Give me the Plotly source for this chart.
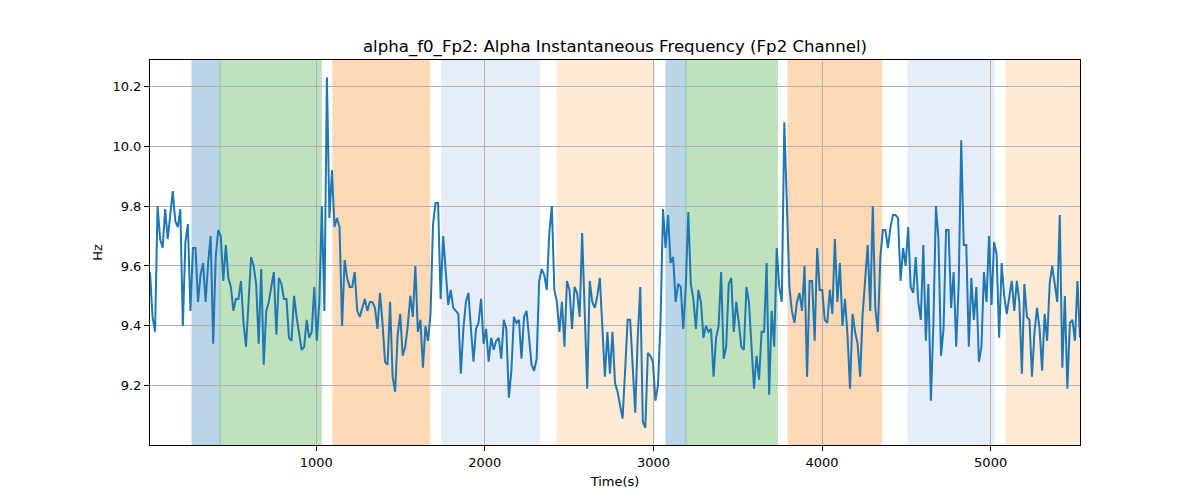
import numpy as np
import plotly.graph_objects as go

# Alpha instantaneous frequency (Hz), sampled on a regular time grid
freq_hz = [
    9.58, 9.43, 9.38, 9.80, 9.69, 9.66, 9.79, 9.69, 9.77, 9.85, 9.75, 9.73, 9.79, 9.40, 9.68, 9.74,
    9.45, 9.66, 9.66, 9.48, 9.57, 9.61, 9.48, 9.61, 9.70, 9.34, 9.63, 9.72, 9.70, 9.55, 9.67, 9.56,
    9.53, 9.45, 9.49, 9.49, 9.55, 9.41, 9.33, 9.48, 9.63, 9.60,
    9.54, 9.34, 9.59, 9.27, 9.45, 9.48, 9.53, 9.58, 9.37, 9.56, 9.54, 9.49, 9.49, 9.36, 9.35, 9.50,
    9.43, 9.38, 9.32, 9.33, 9.42, 9.36, 9.38, 9.53, 9.35, 9.48, 9.80, 9.45, 10.23, 9.76, 9.92, 9.73,
    9.76, 9.73, 9.40, 9.62, 9.56, 9.53, 9.53, 9.58, 9.45,
    9.43, 9.46, 9.49, 9.45, 9.48, 9.48, 9.46, 9.39, 9.51, 9.41, 9.28, 9.27, 9.48, 9.23, 9.18, 9.37,
    9.44, 9.30, 9.33, 9.40, 9.50, 9.43, 9.60, 9.38, 9.42, 9.26, 9.40, 9.35, 9.44, 9.74, 9.81, 9.81,
    9.49, 9.70, 9.57, 9.47, 9.52, 9.46, 9.45, 9.44, 9.24,
    9.39, 9.48, 9.51, 9.39, 9.28, 9.39, 9.41, 9.49, 9.34, 9.39, 9.28, 9.36, 9.32, 9.35, 9.36, 9.29,
    9.42, 9.39, 9.16, 9.25, 9.43, 9.41, 9.42, 9.29, 9.43, 9.45, 9.36, 9.27, 9.25, 9.29, 9.55, 9.59,
    9.57, 9.52, 9.71, 9.80, 9.52, 9.48, 9.38, 9.48, 9.33,
    9.55, 9.52, 9.39, 9.53, 9.51, 9.43, 9.71, 9.45, 9.19, 9.55, 9.48, 9.46, 9.50, 9.56, 9.38, 9.23,
    9.38, 9.24, 9.38, 9.21, 9.18, 9.14, 9.09, 9.25, 9.42, 9.42, 9.26, 9.11, 9.36, 9.53, 9.08, 9.06,
    9.31, 9.30, 9.28, 9.15, 9.20, 9.41, 9.79, 9.66, 9.77,
    9.61, 9.63, 9.48, 9.54, 9.53, 9.39, 9.53, 9.78, 9.54, 9.49, 9.39, 9.52, 9.48, 9.36, 9.40, 9.38,
    9.39, 9.23, 9.36, 9.40, 9.58, 9.29, 9.33, 9.54, 9.56, 9.38, 9.48, 9.41, 9.33, 9.32, 9.53, 9.48,
    9.33, 9.19, 9.30, 9.22, 9.38, 9.38, 9.61, 9.17, 9.45, 9.33,
    9.66, 9.53, 9.48, 10.08, 9.81, 9.53, 9.45, 9.41, 9.48, 9.51, 9.45, 9.60, 9.23, 9.55, 9.55, 9.35,
    9.66, 9.52, 9.52, 9.42, 9.41, 9.52, 9.44, 9.69, 9.48, 9.61, 9.40, 9.49, 9.37, 9.19, 9.44, 9.38,
    9.34, 9.23, 9.44, 9.57, 9.67, 9.45, 9.80, 9.46, 9.38,
    9.63, 9.72, 9.72, 9.66, 9.73, 9.77, 9.77, 9.76, 9.55, 9.66, 9.60, 9.73, 9.53, 9.51, 9.63, 9.48,
    9.42, 9.67, 9.35, 9.54, 9.15, 9.41, 9.80, 9.69, 9.30, 9.39, 9.72, 9.72, 9.46, 9.58, 9.33, 9.54,
    10.02, 9.67, 9.67, 9.33, 9.56, 9.42, 9.53, 9.28, 9.33,
    9.58, 9.48, 9.70, 9.47, 9.68, 9.64, 9.36, 9.61, 9.50, 9.44, 9.49, 9.55, 9.45, 9.55, 9.48, 9.24,
    9.54, 9.43, 9.42, 9.23, 9.38, 9.46, 9.39, 9.25, 9.44, 9.35, 9.54, 9.60, 9.54, 9.48, 9.77, 9.26,
    9.50, 9.19, 9.41, 9.42, 9.35, 9.55, 9.36,
]

time_start = 14.0
time_end = 5530.0
time_s = np.linspace(time_start, time_end, len(freq_hz))

# Shaded epochs: (start, end, colour)
span_starts = [263, 429, 1099, 1745, 2428, 3074, 3193, 3798, 4509, 5091]
span_ends = [429, 1030, 1673, 2325, 3003, 3193, 3736, 4354, 5020, 5530]
span_colors = ["#1f77b4", "#2ca02c", "#ff7f0e", "#aec7e8", "#ffbb78",
               "#1f77b4", "#2ca02c", "#ff7f0e", "#aec7e8", "#ffbb78"]

x_ticks = [1000, 2000, 3000, 4000, 5000]
y_ticks = [9.2, 9.4, 9.6, 9.8, 10.0, 10.2]

fig = go.Figure()
fig.add_trace(go.Scatter(x=time_s, y=freq_hz, mode="lines",
                         line=dict(color="#1f77b4", width=2), showlegend=False,
                         hoverinfo="x+y"))

for s, e, c in zip(span_starts, span_ends, span_colors):
    fig.add_vrect(x0=s, x1=e, fillcolor=c, opacity=0.3, layer="below",
                  line=dict(color=c, width=1))

font_family = "DejaVu Sans, Arial, sans-serif"
fig.update_layout(
    width=1200, height=500,
    margin=dict(l=142, r=128, t=52, b=63),
    paper_bgcolor="white", plot_bgcolor="white",
    font=dict(family=font_family, size=13, color="black"),
    title=dict(text="alpha_f0_Fp2: Alpha Instantaneous Frequency (Fp2 Channel)",
               x=0.5125 - 8 / 1200, xanchor="center", y=0.924, yanchor="middle", yref="container",
               font=dict(size=16.6, color="black")),
)
fig.update_xaxes(range=[time_start, time_end], tickvals=x_ticks,
                 ticktext=[str(v) for v in x_ticks],
                 showgrid=True, gridcolor="#b0b0b0", gridwidth=1,
                 showline=True, linecolor="black", linewidth=1, mirror=True,
                 ticks="outside", ticklen=5, tickcolor="black", zeroline=False,
                 title=dict(text="Time(s)", standoff=8, font=dict(size=13)))
fig.update_yaxes(range=[9.002, 10.288], tickvals=y_ticks,
                 ticktext=[f"{v:.1f}" for v in y_ticks],
                 showgrid=True, gridcolor="#b0b0b0", gridwidth=1,
                 showline=True, linecolor="black", linewidth=1, mirror=True,
                 ticks="outside", ticklen=5, tickcolor="black", zeroline=False,
                 title=dict(text="Hz", standoff=6, font=dict(size=13)))

fig.write_html("out.html")
